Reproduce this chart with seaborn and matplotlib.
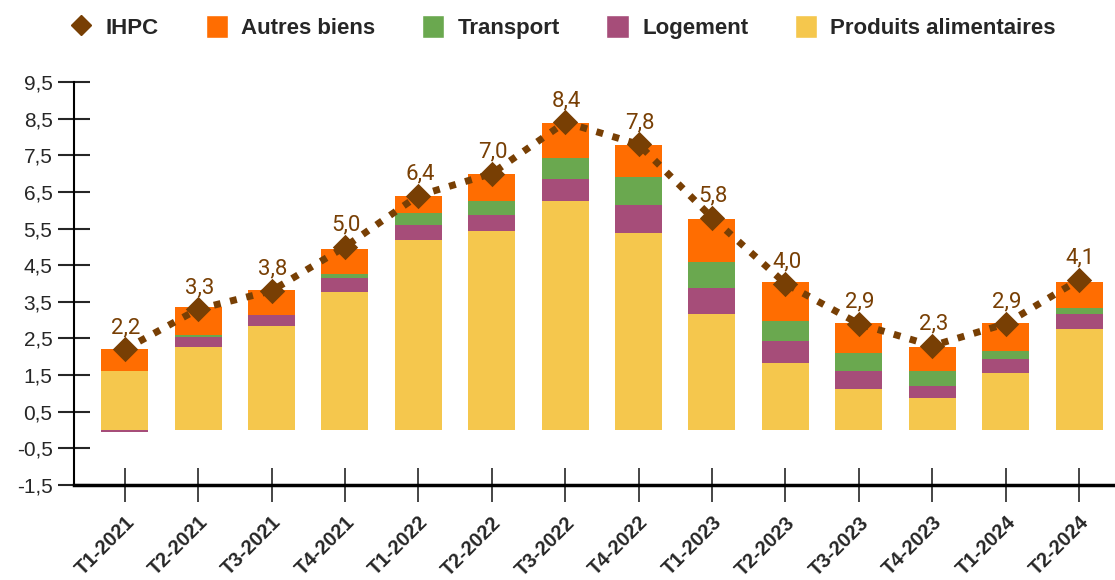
import numpy as np
import pandas as pd
import seaborn as sns
import matplotlib.pyplot as plt
import matplotlib.transforms as mtrans
from matplotlib.lines import Line2D
from matplotlib.patches import Patch

trimestres = ["T1-2021", "T2-2021", "T3-2021", "T4-2021", "T1-2022", "T2-2022", "T3-2022",
              "T4-2022", "T1-2023", "T2-2023", "T3-2023", "T4-2023", "T1-2024", "T2-2024"]
alimentaires = [1.62, 2.27, 2.85, 3.77, 5.18, 5.44, 6.25, 5.39, 3.18, 1.83, 1.13, 0.87, 1.57, 2.75]
logement = [-0.05, 0.28, 0.28, 0.37, 0.41, 0.43, 0.59, 0.75, 0.70, 0.60, 0.49, 0.33, 0.37, 0.43]
transport = [0.0, 0.05, 0.0, 0.11, 0.33, 0.38, 0.59, 0.76, 0.70, 0.54, 0.49, 0.42, 0.22, 0.16]
autres = [0.60, 0.75, 0.70, 0.70, 0.48, 0.74, 0.95, 0.89, 1.17, 1.07, 0.80, 0.65, 0.75, 0.70]
ihpc = [2.2, 3.3, 3.8, 5.0, 6.4, 7.0, 8.4, 7.8, 5.8, 4.0, 2.9, 2.3, 2.9, 4.1]

couleurs = {"Produits alimentaires": "#f5c74d", "Logement": "#a64d79",
            "Transport": "#6aa84f", "Autres biens": "#ff6d01"}
brun = "#783f04"

sns.set_style("white")
plt.rcParams["font.family"] = ["Liberation Sans", "DejaVu Sans"]

fig = plt.figure(figsize=(11.15, 5.8), dpi=100)
ax = fig.add_axes([0.0664, 0.1638, 0.9336, 0.6948])

series = [("Produits alimentaires", alimentaires), ("Logement", logement),
          ("Transport", transport), ("Autres biens", autres)]
pos = np.zeros(len(trimestres))
neg = np.zeros(len(trimestres))
for nom, vals in series:
    vals = np.array(vals)
    bottom = np.where(vals >= 0, pos, neg)
    sns.barplot(x=trimestres, y=vals, bottom=bottom, color=couleurs[nom], width=0.64,
                saturation=1, ax=ax, edgecolor="none")
    pos = pos + np.clip(vals, 0, None)
    neg = neg + np.clip(vals, None, 0)

sns.pointplot(x=trimestres, y=ihpc, color=brun, markers="D", linestyles=":",
              markersize=9.5, linewidth=5, ax=ax)
for ln in ax.lines:
    ln.set_dashes([1.0, 1.4])
    ln.set_dash_capstyle("butt")
    ln.set_zorder(5)

for i, v in enumerate(ihpc):
    ax.annotate(f"{v:.1f}".replace(".", ","), (i, v), xytext=(1, 8), textcoords="offset points",
                ha="center", va="bottom", color=brun, fontsize=16, family="Roboto", zorder=6)

ax.set_xlim(-0.69, 13.49)
ax.set_ylim(-1.5, 9.5)
yt = np.arange(-1.5, 9.6, 1.0)
ax.set_yticks(yt)
ax.set_yticklabels([f"{t:.1f}".replace(".", ",") for t in yt], fontsize=15)
ax.set_xticks(range(len(trimestres)))
decal = mtrans.ScaledTranslation(10 / 100, 0, fig.dpi_scale_trans)
for lab in ax.set_xticklabels(trimestres, rotation=45, ha="right", rotation_mode="anchor",
                              fontsize=14.5, fontweight="bold"):
    lab.set_transform(lab.get_transform() + decal)
ax.tick_params(axis="y", direction="inout", length=23, width=1.5, pad=4, left=True)
ax.tick_params(axis="x", direction="inout", length=24, width=1.2, pad=8, bottom=True)
for s in ["top", "right"]:
    ax.spines[s].set_visible(False)
ax.spines["left"].set_linewidth(1.5)
ax.spines["bottom"].set_linewidth(2.5)
ax.spines["left"].set_color("black")
ax.spines["bottom"].set_color("black")
ax.set_xlabel("")
ax.set_ylabel("")

handles = [Line2D([], [], marker="D", color=brun, linestyle="none", markersize=10)]
labels = ["IHPC"]
for nom in ["Autres biens", "Transport", "Logement", "Produits alimentaires"]:
    handles.append(Patch(facecolor=couleurs[nom]))
    labels.append(nom)
fig.legend(handles, labels, loc="center", bbox_to_anchor=(0.505, 0.953), ncol=5, frameon=False,
           prop={"weight": "bold", "size": 16}, handlelength=1.0, handleheight=1.15,
           columnspacing=2.1, handletextpad=0.6)

fig.savefig("out.png", dpi=100)
